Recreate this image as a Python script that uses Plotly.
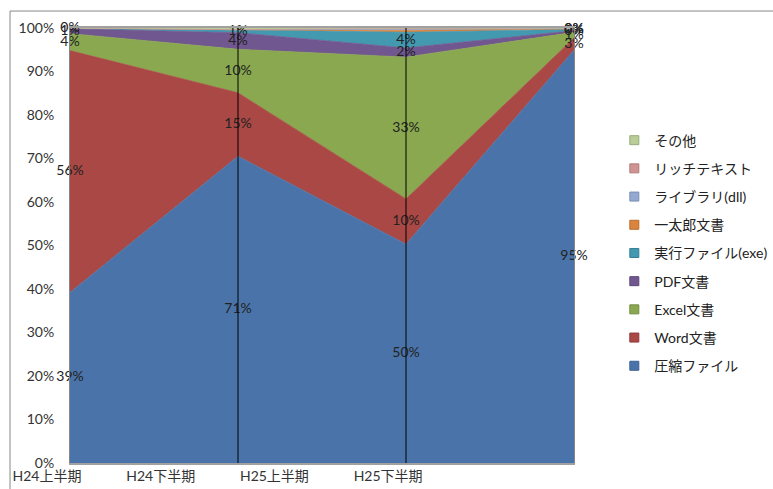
import math
import plotly.graph_objects as go

# Half-year periods
categories = ["H24上半期", "H24下半期", "H25上半期", "H25下半期"]

# Share of each file type per period (%), stacked bottom to top
series_names = [
    "圧縮ファイル", "Word文書", "Excel文書", "PDF文書", "実行ファイル(exe)",
    "一太郎文書", "ライブラリ(dll)", "リッチテキスト", "その他",
]
compressed = [39.2, 70.5, 50.3, 94.9]
word_doc = [55.6, 14.6, 10.4, 2.8]
excel_doc = [3.9, 10.0, 32.6, 1.3]
pdf_doc = [1.1, 3.8, 2.1, 0.4]
exe_file = [0.2, 0.7, 3.6, 0.3]
ichitaro = [0.0, 0.0, 0.5, 0.1]
dll_lib = [0.0, 0.0, 0.2, 0.1]
rich_text = [0.0, 0.0, 0.3, 0.1]
other = [0.0, 0.4, 0.0, 0.0]

# Which data points carry a percentage label
label_shown = [
    [True, True, True, True],
    [True, True, True, True],
    [True, True, True, True],
    [True, True, True, True],
    [True, True, True, True],
    [False, False, False, True],
    [False, False, False, False],
    [False, False, False, False],
    [False, False, False, False],
]

y_ticks = [0, 10, 20, 30, 40, 50, 60, 70, 80, 90, 100]

all_values = [compressed, word_doc, excel_doc, pdf_doc, exe_file,
              ichitaro, dll_lib, rich_text, other]

fill_colors = ["#4A74A9", "#AA4845", "#8AA84F", "#71578F", "#4299B0",
               "#DB843D", "#93A9CF", "#D19392", "#B9CD96"]
edge_colors = ["#3D6294", "#8F3A38", "#728C40", "#5C4776", "#357F93",
               "#B86D30", "#7A8FB3", "#B07A79", "#9AAD7C"]

FONT = "Lato, 'Noto Sans CJK JP', sans-serif"

xs = list(range(len(categories)))
fig = go.Figure()

# Stacked 100% areas
for name, vals, fc in zip(series_names, all_values, fill_colors):
    fig.add_trace(go.Scatter(
        x=xs, y=vals, name=name, mode="lines", stackgroup="share",
        groupnorm="percent", fillcolor=fc,
        line=dict(color=fc, width=0.8), showlegend=False, hoverinfo="skip",
    ))

# Percentage labels in the middle of each band
totals = [sum(v[i] for v in all_values) for i in xs]
base = [0.0] * len(xs)
lab_x, lab_y, lab_t = [], [], []
for vals, shown in zip(all_values, label_shown):
    for i in xs:
        share = vals[i] / totals[i] * 100
        if shown[i]:
            lab_x.append(i)
            lab_y.append(base[i] + share / 2)
            lab_t.append(f"{math.floor(share + 0.5)}%")
        base[i] += share
fig.add_trace(go.Scatter(
    x=lab_x, y=lab_y, text=lab_t, mode="text",
    textfont=dict(family=FONT, size=14, color="#222222"),
    showlegend=False, hoverinfo="skip", cliponaxis=False,
))

# Legend entries with square swatches, topmost series first
for name, fc, ec in reversed(list(zip(series_names, fill_colors, edge_colors))):
    fig.add_trace(go.Scatter(
        x=[None], y=[None], mode="markers", name=name, legendgroup=name,
        marker=dict(symbol="square", size=9, color=fc, line=dict(color=ec, width=1)),
    ))

# Category tick labels on an overlaid axis
fig.add_trace(go.Scatter(x=[None], y=[None], xaxis="x2", showlegend=False, hoverinfo="skip"))

# Drop lines at the inner categories
for i in xs[1:-1]:
    fig.add_shape(type="line", xref="x", yref="paper", x0=i, x1=i, y0=0, y1=1,
                  line=dict(color="#000000", width=1), layer="above")

# Outer chart frame
fig.add_shape(type="rect", xref="paper", yref="paper",
              x0=-0.119, x1=1.45, y0=-0.2, y1=1.039,
              line=dict(color="#888888", width=1), layer="below")

fig.update_layout(
    width=773, height=489,
    margin=dict(l=70, r=199, t=28, b=26, autoexpand=False),
    paper_bgcolor="white", plot_bgcolor="white",
    font=dict(family=FONT, size=14, color="#333333"),
    xaxis=dict(range=[0, len(categories) - 1], showticklabels=False,
               showgrid=False, zeroline=False, showline=True,
               linecolor="#A0A0A0", linewidth=2, mirror=True, fixedrange=True),
    xaxis2=dict(overlaying="x", range=[-0.202, 4.23], tickmode="array",
                tickvals=xs, ticktext=categories, showgrid=False, zeroline=False,
                showline=False, side="bottom", ticks="", ticklabelstandoff=3,
                ticklabelshift=-46, automargin=False,
                tickfont=dict(family=FONT, size=14, color="#333333")),
    yaxis=dict(range=[0, 100], tickmode="array", tickvals=y_ticks,
               ticktext=[f"{t}%" for t in y_ticks], showgrid=False,
               zeroline=False, showline=True, linecolor="#868686", mirror=True,
               ticks="", ticklabelstandoff=12, automargin=False,
               tickfont=dict(family=FONT, size=14, color="#333333")),
    legend=dict(x=1.08, y=0.778, xanchor="left", yanchor="top",
                traceorder="grouped", tracegroupgap=7,
                font=dict(family=FONT, size=14, color="#222222"),
                itemwidth=30, bgcolor="rgba(0,0,0,0)"),
    showlegend=True,
)

fig.write_html("out.html")
